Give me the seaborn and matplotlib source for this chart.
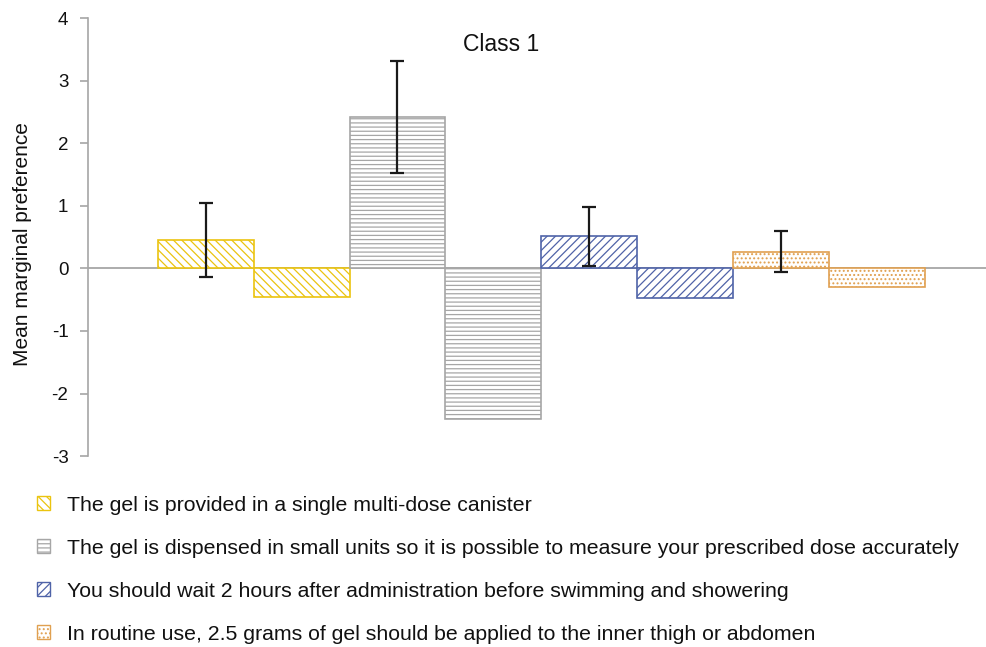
import numpy as np
import pandas as pd
import matplotlib
matplotlib.use("Agg")
import matplotlib.pyplot as plt
import matplotlib.patches as mpatches
import seaborn as sns

# attribute descriptions (legend) and levels shown as bar pairs
attributes = [
    "The gel is provided in a single multi-dose canister",
    "The gel is dispensed in small units so it is possible to measure your prescribed dose accurately",
    "You should wait 2 hours after administration before swimming and showering",
    "In routine use, 2.5 grams of gel should be applied to the inner thigh or abdomen",
]
levels = ["A1 yes", "A1 no", "A2 yes", "A2 no", "A3 yes", "A3 no", "A4 yes", "A4 no"]
means = [0.45, -0.46, 2.42, -2.40, 0.51, -0.48, 0.27, -0.30]
errors = [0.59, 0.0, 0.90, 0.0, 0.47, 0.0, 0.33, 0.0]

edge_colors = ["#EBC40F", "#A6A6A6", "#4F63A8", "#E0A050"]
hatches = ["\\\\\\\\", "----", "////", "...."]

df = pd.DataFrame({"level": levels, "mean": means, "err": errors})

sns.set_style("white")
plt.rcParams["font.family"] = ["Liberation Sans", "DejaVu Sans"]
plt.rcParams["axes.unicode_minus"] = False
plt.rcParams["hatch.linewidth"] = 0.9
plt.rcParams["text.color"] = "#111111"
plt.rcParams["axes.labelcolor"] = "#111111"
plt.rcParams["ytick.labelcolor"] = "#111111"

fig = plt.figure(figsize=(9.87, 6.47), dpi=100)
ax = fig.add_axes([0.089, 0.295, 0.911, 0.677])

sns.barplot(data=df, x="level", y="mean", color="white", width=1.0,
            errorbar=None, ax=ax, saturation=1)

for i, bar in enumerate(ax.patches):
    bar.set_facecolor("white")
    bar.set_edgecolor(edge_colors[i // 2])
    bar.set_hatch(hatches[i // 2])
    bar.set_linewidth(1.2)

# error bars only on the first level of each attribute
pos = np.arange(len(levels))
has_err = df["err"] > 0
ax.errorbar(pos[has_err], df["mean"][has_err], yerr=df["err"][has_err],
            fmt="none", ecolor="#1a1a1a", elinewidth=1.6, capsize=5, capthick=1.6)

ax.axhline(0, color="#A6A6A6", lw=1.3, zorder=0.5)

ax.set_ylim(-3, 4)
ax.set_xlim(-1.23, 8.15)
ax.set_yticks(range(-3, 5))
ax.set_xticks([])
ax.set_xlabel("")
ax.set_ylabel("Mean marginal preference", fontsize=15)
ax.yaxis.set_label_coords(-0.0625, 0.484)
ax.tick_params(axis="y", direction="out", length=6, width=1.2, color="#A6A6A6",
               labelsize=13.5, left=True, pad=8)
for s in ["top", "right", "bottom"]:
    ax.spines[s].set_visible(False)
ax.spines["left"].set_color("#A6A6A6")
ax.spines["left"].set_linewidth(1.2)

ax.text(0.46, 0.94, "Class 1", transform=ax.transAxes, ha="center", va="center",
        fontsize=16.5)

handles = [mpatches.Patch(facecolor="white", edgecolor=c, hatch=h, lw=1)
           for c, h in zip(edge_colors, hatches)]
fig.legend(handles, attributes, loc="upper left", bbox_to_anchor=(0.029, 0.247),
           frameon=False, fontsize=15.3, handlelength=0.6, handleheight=0.6,
           handletextpad=0.8, labelspacing=1.13, borderaxespad=0)

fig.savefig("out.png", dpi=100)
